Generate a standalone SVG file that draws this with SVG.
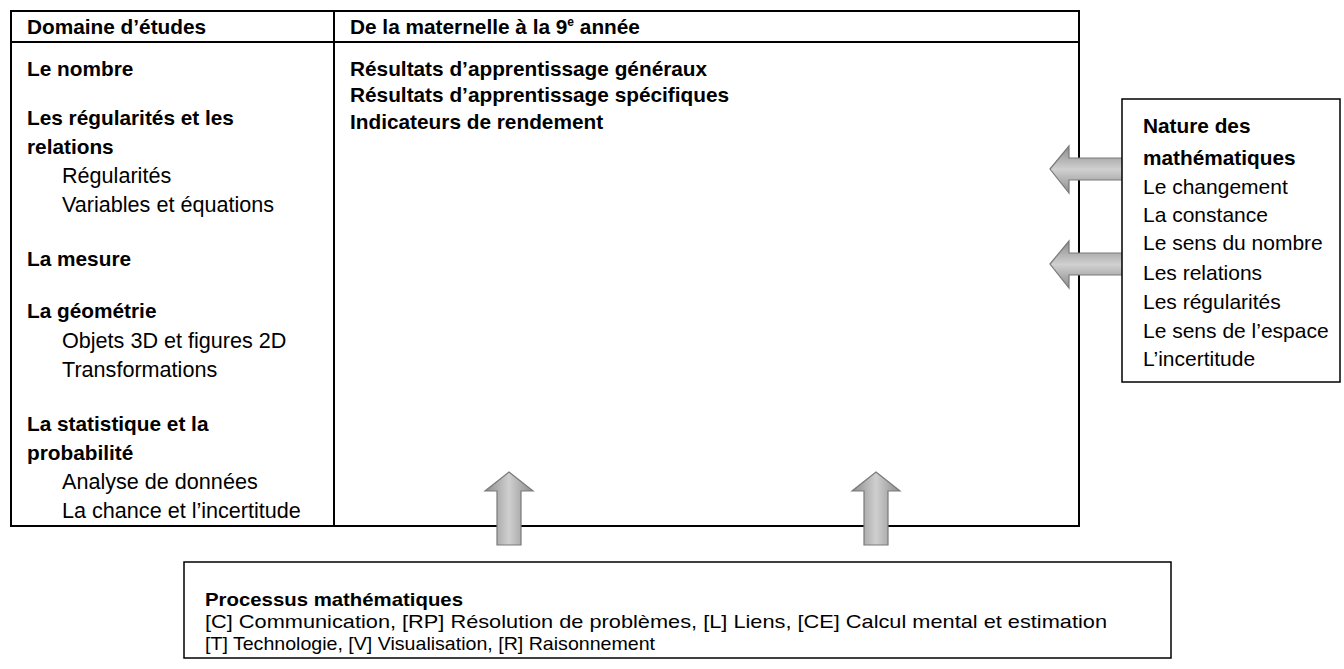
<svg xmlns="http://www.w3.org/2000/svg" width="1344" height="669" viewBox="0 0 1344 669">
<style>
text{font-family:"Liberation Sans",Arial,sans-serif;font-size:21.6px;fill:#000}
.b{font-weight:bold;font-size:20.8px}
.n{font-size:21px}
.p{font-size:19px}
.box{fill:#fff;stroke:#000;stroke-width:1.5}
.tbl{fill:none;stroke:#000;stroke-width:2}
.arr{stroke:#7a7a7a;stroke-width:1.2}
</style>
<defs>
<linearGradient id="gv" x1="0" y1="0" x2="1" y2="0">
<stop offset="0" stop-color="#8c8c8c"/><stop offset="0.5" stop-color="#cfcfcf"/><stop offset="1" stop-color="#8c8c8c"/>
</linearGradient>
<linearGradient id="gh" x1="0" y1="0" x2="0" y2="1">
<stop offset="0" stop-color="#8c8c8c"/><stop offset="0.5" stop-color="#d0d0d0"/><stop offset="1" stop-color="#8c8c8c"/>
</linearGradient>
</defs>
<g id="table">
<rect class="tbl" x="11" y="11" width="1068" height="515"/>
<line class="tbl" x1="11" y1="42" x2="1079" y2="42"/>
<line class="tbl" x1="334" y1="11" x2="334" y2="526"/>
<text class="b" x="27" y="34">Domaine d’études</text>
<text class="b" x="350" y="34">De la maternelle à la 9<tspan dy="-8" font-size="12">e</tspan><tspan dy="8"> année</tspan></text>
</g>
<g id="domaines">
<text class="b" x="27" y="76">Le nombre</text>
<text class="b" x="27" y="125">Les régularités et les</text>
<text class="b" x="27" y="154">relations</text>
<text x="62" y="183">Régularités</text>
<text x="62" y="212">Variables et équations</text>
<text class="b" x="27" y="266">La mesure</text>
<text class="b" x="27" y="318">La géométrie</text>
<text x="62" y="348">Objets 3D et figures 2D</text>
<text x="62" y="377">Transformations</text>
<text class="b" x="27" y="431">La statistique et la</text>
<text class="b" x="27" y="460">probabilité</text>
<text x="62" y="489">Analyse de données</text>
<text x="62" y="518">La chance et l’incertitude</text>
</g>
<g id="resultats">
<text class="b" x="350" y="76">Résultats d’apprentissage généraux</text>
<text class="b" x="350" y="102">Résultats d’apprentissage spécifiques</text>
<text class="b" x="350" y="129">Indicateurs de rendement</text>
</g>
<g id="connectors">
<path class="arr" fill="url(#gh)" d="M1050,169 L1069,146 L1069,158 L1123,158 L1123,180 L1069,180 L1069,193 Z"/>
<path class="arr" fill="url(#gh)" d="M1050,264 L1069,241 L1069,253 L1123,253 L1123,275 L1069,275 L1069,288 Z"/>
<path class="arr" fill="url(#gv)" d="M509,472 L533,491 L521,491 L521,545 L497,545 L497,491 L485,491 Z"/>
<path class="arr" fill="url(#gv)" d="M876,472 L900,491 L888,491 L888,545 L864,545 L864,491 L852,491 Z"/>
</g>
<g id="nature">
<rect class="box" x="1122" y="99" width="218" height="283"/>
<text class="b" x="1143" y="133">Nature des</text>
<text class="b" x="1143" y="165">mathématiques</text>
<text class="n" x="1143" y="194">Le changement</text>
<text class="n" x="1143" y="222">La constance</text>
<text class="n" x="1143" y="250">Le sens du nombre</text>
<text class="n" x="1143" y="280">Les relations</text>
<text class="n" x="1143" y="309">Les régularités</text>
<text class="n" x="1143" y="338">Le sens de l’espace</text>
<text class="n" x="1143" y="366">L’incertitude</text>
</g>
<g id="processus">
<rect class="box" x="184" y="562" width="987" height="96"/>
<text class="b p" x="205" y="606" textLength="258" lengthAdjust="spacingAndGlyphs">Processus mathématiques</text>
<text class="p" x="205" y="628" textLength="902" lengthAdjust="spacingAndGlyphs">[C] Communication, [RP] Résolution de problèmes, [L] Liens, [CE] Calcul mental et estimation</text>
<text class="p" x="205" y="650" textLength="450" lengthAdjust="spacingAndGlyphs">[T] Technologie, [V] Visualisation, [R] Raisonnement</text>
</g>
</svg>
